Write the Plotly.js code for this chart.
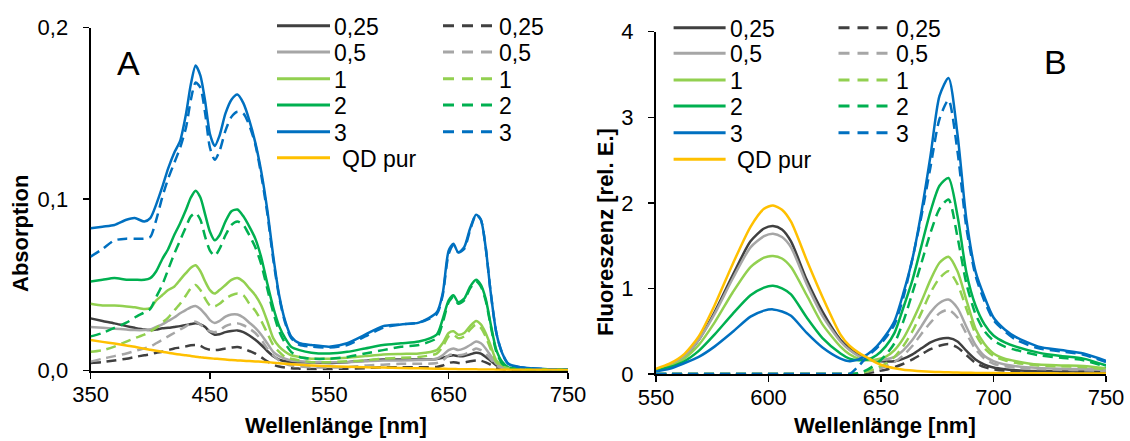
<!DOCTYPE html>
<html><head><meta charset="utf-8">
<script src="https://cdn.plot.ly/plotly-3.0.1.min.js"></script>
<style>html,body{margin:0;padding:0;background:#fff}#chart{width:1130px;height:441px}</style>
</head><body><div id="chart"></div>
<script>
// ---------- DATA ----------
const seriesLabels = ["0,25", "0,5", "1", "2", "3"];
const qdLabel = "QD pur";

// Panel A: absorption vs wavelength (nm)
const wlA = [350,360,370,380,387,395,400,405,410,415,420,425,430,434,438,442,446,450,454,458,463,468,473,478,483,488,493,498,503,508,513,518,525,535,550,565,580,595,610,625,640,645,650,654,658,663,668,673,677,681,685,690,695,700,710,730,750];

const absSolid025 = [0.0305,0.029,0.0276,0.026,0.025,0.024,0.0237,0.024,0.0247,0.025,0.0255,0.026,0.0266,0.0272,0.0276,0.027,0.0255,0.0225,0.021,0.0212,0.0225,0.0232,0.0235,0.0225,0.0205,0.018,0.015,0.0115,0.0085,0.0065,0.0055,0.005,0.005,0.0048,0.0045,0.005,0.0058,0.0065,0.0065,0.0065,0.0068,0.0075,0.0085,0.009,0.0085,0.0085,0.0095,0.0105,0.01,0.008,0.006,0.003,0.0015,0.001,0.0008,0.0006,0.0005];
const absSolid05 = [0.0255,0.025,0.0245,0.024,0.0237,0.0237,0.024,0.0255,0.027,0.029,0.031,0.0335,0.0355,0.037,0.0377,0.036,0.033,0.0295,0.0278,0.029,0.0315,0.0328,0.0328,0.031,0.028,0.025,0.021,0.016,0.011,0.0085,0.007,0.006,0.0055,0.005,0.005,0.005,0.0055,0.006,0.006,0.0062,0.007,0.009,0.012,0.013,0.012,0.013,0.015,0.017,0.016,0.013,0.009,0.004,0.002,0.001,0.0008,0.0006,0.0005];
const absSolid1 = [0.039,0.038,0.038,0.0375,0.037,0.036,0.0365,0.041,0.044,0.047,0.049,0.053,0.057,0.06,0.0615,0.058,0.052,0.047,0.045,0.047,0.05,0.053,0.054,0.052,0.048,0.044,0.038,0.029,0.019,0.014,0.011,0.009,0.008,0.007,0.007,0.0075,0.0085,0.0095,0.0098,0.01,0.012,0.016,0.022,0.023,0.021,0.022,0.026,0.029,0.027,0.022,0.015,0.006,0.003,0.0015,0.001,0.0007,0.0005];
const absSolid2 = [0.052,0.053,0.054,0.053,0.053,0.053,0.054,0.058,0.065,0.071,0.079,0.086,0.094,0.101,0.105,0.101,0.091,0.081,0.076,0.079,0.087,0.093,0.094,0.09,0.084,0.077,0.066,0.051,0.037,0.026,0.019,0.014,0.012,0.0105,0.01,0.011,0.013,0.015,0.016,0.017,0.021,0.03,0.041,0.044,0.04,0.042,0.049,0.053,0.05,0.042,0.028,0.012,0.005,0.002,0.001,0.0007,0.0005];
const absSolid3 = [0.083,0.084,0.085,0.088,0.089,0.087,0.089,0.097,0.107,0.118,0.127,0.134,0.150,0.167,0.178,0.172,0.157,0.138,0.131,0.137,0.150,0.158,0.161,0.156,0.146,0.133,0.116,0.094,0.067,0.044,0.029,0.020,0.016,0.015,0.014,0.016,0.021,0.026,0.027,0.028,0.034,0.045,0.070,0.074,0.069,0.072,0.083,0.091,0.088,0.072,0.047,0.022,0.010,0.004,0.002,0.001,0.0005];

const absDash025 = [0.0045,0.005,0.006,0.007,0.008,0.009,0.0095,0.0105,0.011,0.012,0.013,0.0135,0.0142,0.0148,0.015,0.0145,0.013,0.0122,0.012,0.0122,0.013,0.0135,0.0138,0.013,0.0115,0.01,0.0078,0.0055,0.0035,0.0024,0.0018,0.0014,0.0012,0.001,0.001,0.0012,0.0015,0.002,0.002,0.002,0.0022,0.003,0.0045,0.005,0.0045,0.0048,0.0055,0.006,0.0058,0.0048,0.0035,0.0015,0.0008,0.0006,0.0005,0.0004,0.0004];
const absDash05 = [0.0053,0.007,0.0085,0.01,0.0115,0.013,0.014,0.016,0.018,0.02,0.022,0.024,0.026,0.0278,0.0286,0.027,0.0245,0.023,0.0225,0.0235,0.026,0.0272,0.0276,0.0265,0.0245,0.022,0.018,0.013,0.009,0.006,0.004,0.003,0.0025,0.002,0.0018,0.002,0.003,0.0035,0.004,0.004,0.0045,0.006,0.009,0.0095,0.009,0.0095,0.011,0.013,0.012,0.01,0.007,0.003,0.0015,0.001,0.0008,0.0006,0.0005];
const absDash1 = [0.011,0.012,0.014,0.017,0.019,0.021,0.023,0.025,0.028,0.031,0.035,0.039,0.044,0.048,0.05,0.047,0.042,0.038,0.0375,0.039,0.042,0.044,0.045,0.044,0.039,0.035,0.029,0.022,0.015,0.011,0.008,0.007,0.006,0.005,0.005,0.0055,0.006,0.007,0.0075,0.008,0.01,0.014,0.02,0.021,0.019,0.02,0.024,0.027,0.025,0.02,0.013,0.005,0.0025,0.0015,0.001,0.0007,0.0005];
const absDash2 = [0.02,0.022,0.025,0.028,0.031,0.034,0.036,0.043,0.05,0.059,0.068,0.076,0.084,0.09,0.092,0.088,0.078,0.07,0.067,0.071,0.079,0.085,0.087,0.085,0.079,0.072,0.062,0.048,0.034,0.023,0.016,0.011,0.008,0.007,0.007,0.008,0.01,0.012,0.014,0.015,0.019,0.028,0.04,0.043,0.039,0.041,0.048,0.052,0.049,0.041,0.027,0.011,0.004,0.002,0.001,0.0007,0.0005];
const absDash3 = [0.0665,0.071,0.076,0.077,0.077,0.077,0.078,0.088,0.101,0.112,0.121,0.13,0.142,0.158,0.168,0.165,0.15,0.13,0.123,0.128,0.14,0.148,0.151,0.15,0.143,0.132,0.114,0.092,0.065,0.043,0.028,0.019,0.015,0.014,0.0135,0.015,0.02,0.025,0.027,0.028,0.033,0.044,0.068,0.073,0.069,0.071,0.082,0.091,0.088,0.072,0.047,0.022,0.01,0.004,0.002,0.001,0.0005];

const absQD = [0.0179,0.0168,0.0158,0.0147,0.014,0.0128,0.0122,0.0116,0.011,0.0105,0.0099,0.0094,0.009,0.0086,0.0082,0.0079,0.0075,0.0072,0.007,0.0068,0.0065,0.0062,0.006,0.0058,0.0056,0.0054,0.0052,0.005,0.0047,0.0044,0.0041,0.0038,0.0035,0.003,0.0026,0.0023,0.002,0.0018,0.0016,0.0014,0.0012,0.0011,0.001,0.001,0.0009,0.0009,0.0008,0.0008,0.0007,0.0007,0.0007,0.0006,0.0006,0.0006,0.0005,0.0005,0.0004];

// Panel B: fluorescence vs wavelength (nm)
const wlB = [550,556,562,569,576,584,592,598,602,606,610,617,624,632,636,640,644,648,652,656,660,664,668,672,676,680,684,688,692,696,700,705,710,720,730,740,750];

const fluSolid025 = [0.05,0.1,0.19,0.4,0.72,1.15,1.55,1.7,1.73,1.69,1.55,1.1,0.73,0.4,0.3,0.23,0.18,0.155,0.145,0.15,0.18,0.23,0.3,0.37,0.41,0.42,0.38,0.27,0.17,0.11,0.075,0.055,0.045,0.035,0.03,0.028,0.025];
const fluSolid05 = [0.05,0.1,0.19,0.4,0.7,1.11,1.48,1.61,1.64,1.6,1.48,1.05,0.68,0.38,0.28,0.21,0.17,0.16,0.17,0.2,0.28,0.4,0.56,0.72,0.83,0.87,0.77,0.55,0.34,0.21,0.15,0.11,0.09,0.07,0.062,0.057,0.047];
const fluSolid1 = [0.045,0.09,0.17,0.34,0.6,0.95,1.25,1.36,1.38,1.35,1.25,0.92,0.58,0.32,0.23,0.18,0.16,0.17,0.2,0.28,0.42,0.62,0.85,1.1,1.3,1.37,1.2,0.86,0.53,0.35,0.24,0.18,0.15,0.11,0.1,0.093,0.066];
const fluSolid2 = [0.04,0.08,0.14,0.27,0.46,0.7,0.92,1.01,1.03,1.0,0.93,0.66,0.42,0.24,0.18,0.16,0.17,0.22,0.32,0.48,0.78,1.1,1.5,1.9,2.2,2.29,1.85,1.18,0.8,0.58,0.45,0.37,0.32,0.25,0.21,0.18,0.1];
const fluSolid3 = [0.03,0.06,0.12,0.2,0.32,0.49,0.67,0.74,0.755,0.73,0.68,0.48,0.31,0.18,0.15,0.17,0.23,0.32,0.45,0.62,0.95,1.35,1.9,2.55,3.25,3.46,2.8,1.8,1.2,0.9,0.66,0.52,0.43,0.32,0.28,0.24,0.155];

const fluDash025 = [0,0,0,0,0,0,0,0,0,0,0,0,0,0,0,0.0,0.01,0.03,0.05,0.08,0.12,0.17,0.23,0.29,0.33,0.35,0.31,0.22,0.13,0.08,0.055,0.04,0.035,0.027,0.022,0.02,0.015];
const fluDash05 = [0,0,0,0,0,0,0,0,0,0,0,0,0,0,0,0.01,0.03,0.05,0.09,0.14,0.22,0.33,0.47,0.6,0.71,0.75,0.66,0.47,0.29,0.18,0.12,0.09,0.075,0.058,0.05,0.045,0.035];
const fluDash1 = [0,0,0,0,0,0,0,0,0,0,0,0,0,0,0,0.01,0.03,0.07,0.12,0.2,0.33,0.5,0.72,0.95,1.12,1.2,1.05,0.76,0.47,0.3,0.21,0.16,0.13,0.1,0.09,0.082,0.055];
const fluDash2 = [0,0,0,0,0,0,0,0,0,0,0,0,0,0,0,0.01,0.05,0.12,0.22,0.36,0.62,0.95,1.3,1.65,1.93,2.04,1.6,1.05,0.7,0.5,0.39,0.32,0.28,0.22,0.19,0.16,0.085];
const fluDash3 = [0,0,0,0,0,0,0,0,0,0,0,0,0,0,0,0.09,0.21,0.3,0.42,0.58,0.9,1.35,1.85,2.42,2.98,3.2,2.6,1.7,1.15,0.85,0.63,0.5,0.4,0.3,0.265,0.225,0.14];

const fluQD = [0.06,0.12,0.22,0.44,0.8,1.28,1.72,1.93,1.97,1.92,1.78,1.33,0.9,0.46,0.33,0.25,0.19,0.13,0.09,0.067,0.05,0.04,0.032,0.026,0.022,0.019,0.017,0.015,0.013,0.012,0.011,0.01,0.009,0.008,0.007,0.006,0.005];

const ticksAx = [350, 450, 550, 650, 750];
const ticksAy = [0, 0.1, 0.2];
const tickTextAy = ["0,0", "0,1", "0,2"];
const ticksBx = [550, 600, 650, 700, 750];
const ticksBy = [0, 1, 2, 3, 4];

// ---------- STYLE ----------
const W = 1130, H = 441;
const seriesColors = ["#404040", "#a6a6a6", "#92d050", "#00b050", "#0070c0"];
const qdColor = "#ffc000";
const FONT = "Liberation Sans, Arial, sans-serif";
const DASH = "10px,6px";
const LEG_DASH = "11px,8px";
const LW = 2.5;
const LEG_FS = 23;

const px = v => v / W;          // pixel -> paper x
const py = v => 1 - v / H;      // pixel -> paper y

const solidA = [absSolid025, absSolid05, absSolid1, absSolid2, absSolid3];
const dashA = [absDash025, absDash05, absDash1, absDash2, absDash3];
const solidB = [fluSolid025, fluSolid05, fluSolid1, fluSolid2, fluSolid3];
const dashB = [fluDash025, fluDash05, fluDash1, fluDash2, fluDash3];

const traces = [];
function addPanel(xs, solids, dashes, qd, xa, ya) {
  solids.forEach((ys, i) => traces.push({x: xs, y: ys, xaxis: xa, yaxis: ya, type: 'scatter', mode: 'lines',
    name: seriesLabels[i], showlegend: false, hoverinfo: 'skip',
    line: {color: seriesColors[i], width: LW, shape: 'spline', smoothing: 0.7}}));
  dashes.forEach((ys, i) => traces.push({x: xs, y: ys, xaxis: xa, yaxis: ya, type: 'scatter', mode: 'lines',
    name: seriesLabels[i], showlegend: false, hoverinfo: 'skip',
    line: {color: seriesColors[i], width: LW, dash: DASH, shape: 'spline', smoothing: 0.7}}));
  traces.push({x: xs, y: qd, xaxis: xa, yaxis: ya, type: 'scatter', mode: 'lines', name: qdLabel,
    showlegend: false, hoverinfo: 'skip',
    line: {color: qdColor, width: LW, shape: 'spline', smoothing: 0.7}});
}
addPanel(wlA, solidA, dashA, absQD, 'x', 'y');
addPanel(wlB, solidB, dashB, fluQD, 'x2', 'y2');

// manual legends
const shapes = [], annotations = [];
function addLegend(rows, c1x0, c1x1, c1t, c2x0, c2x1, c2t, qdT) {
  seriesLabels.forEach((lab, i) => {
    const y = rows[i];
    shapes.push({type: 'line', xref: 'paper', yref: 'paper', x0: px(c1x0), x1: px(c1x1), y0: py(y), y1: py(y),
      line: {color: seriesColors[i], width: 3}});
    shapes.push({type: 'line', xref: 'paper', yref: 'paper', x0: px(c2x0), x1: px(c2x1), y0: py(y), y1: py(y),
      line: {color: seriesColors[i], width: 3, dash: LEG_DASH}});
    annotations.push({xref: 'paper', yref: 'paper', x: px(c1t), y: py(y + 1), xanchor: 'left', yanchor: 'middle',
      text: lab, showarrow: false, font: {family: FONT, size: LEG_FS, color: '#000'}});
    annotations.push({xref: 'paper', yref: 'paper', x: px(c2t), y: py(y + 1), xanchor: 'left', yanchor: 'middle',
      text: lab, showarrow: false, font: {family: FONT, size: LEG_FS, color: '#000'}});
  });
  const y = rows[5];
  shapes.push({type: 'line', xref: 'paper', yref: 'paper', x0: px(c1x0), x1: px(c1x1), y0: py(y), y1: py(y),
    line: {color: qdColor, width: 3}});
  annotations.push({xref: 'paper', yref: 'paper', x: px(qdT), y: py(y + 1), xanchor: 'left', yanchor: 'middle',
    text: qdLabel, showarrow: false, font: {family: FONT, size: LEG_FS, color: '#000'}});
}
addLegend([25.7, 52, 78.7, 105, 131.7, 157.7], 277, 330, 332, 443, 495, 497, 340);
addLegend([27.7, 53.3, 80, 106, 132.7, 159.3], 673.6, 725.6, 728, 838.5, 890.4, 894, 735);

// titles / panel letters
const titleFont = {family: FONT, size: 22, color: '#000', weight: 'bold'};
annotations.push({xref: 'paper', yref: 'paper', x: px(336), y: py(425), text: '<b>Wellenlänge [nm]</b>', showarrow: false,
  xanchor: 'center', yanchor: 'middle', font: titleFont});
annotations.push({xref: 'paper', yref: 'paper', x: px(885), y: py(425), text: '<b>Wellenlänge [nm]</b>', showarrow: false,
  xanchor: 'center', yanchor: 'middle', font: titleFont});
annotations.push({xref: 'paper', yref: 'paper', x: px(20), y: py(234), text: '<b>Absorption</b>', showarrow: false,
  textangle: -90, xanchor: 'center', yanchor: 'middle', font: titleFont});
annotations.push({xref: 'paper', yref: 'paper', x: px(606), y: py(232), text: '<b>Fluoreszenz [rel. E.]</b>', showarrow: false,
  textangle: -90, xanchor: 'center', yanchor: 'middle', font: titleFont});
annotations.push({xref: 'paper', yref: 'paper', x: px(128), y: py(63), text: 'A', showarrow: false,
  xanchor: 'center', yanchor: 'middle', font: {family: FONT, size: 34, color: '#000'}});
annotations.push({xref: 'paper', yref: 'paper', x: px(1055), y: py(62), text: 'B', showarrow: false,
  xanchor: 'center', yanchor: 'middle', font: {family: FONT, size: 34, color: '#000'}});

const axBase = {showline: true, linecolor: '#000', linewidth: 2, ticks: 'outside', ticklen: 6, tickwidth: 1.5,
  tickcolor: '#000', showgrid: false, zeroline: false, layer: 'below traces', fixedrange: true,
  tickfont: {family: FONT, size: 22, color: '#000'}};

const layout = {
  width: W, height: H, margin: {l: 0, r: 0, t: 0, b: 0}, paper_bgcolor: '#fff', plot_bgcolor: '#fff',
  showlegend: false,
  xaxis: Object.assign({}, axBase, {domain: [px(90.6), px(568)], range: [350, 750], tickmode: 'array', tickvals: ticksAx,
    anchor: 'y', ticklabelstandoff: -3}),
  yaxis: Object.assign({}, axBase, {domain: [py(370.7), py(27.7)], range: [0, 0.2], tickmode: 'array', tickvals: ticksAy,
    ticktext: tickTextAy, anchor: 'x', ticklabelstandoff: 10}),
  xaxis2: Object.assign({}, axBase, {domain: [px(656), px(1106)], range: [550, 750], tickmode: 'array', tickvals: ticksBx,
    anchor: 'y2', ticklabelstandoff: -3}),
  yaxis2: Object.assign({}, axBase, {domain: [py(374), py(31.7)], range: [0, 4], tickmode: 'array', tickvals: ticksBy,
    anchor: 'x2', ticklabelstandoff: 10}),
  shapes: shapes, annotations: annotations
};

Plotly.newPlot('chart', traces, layout, {displayModeBar: false, staticPlot: true});
</script>
</body></html>
